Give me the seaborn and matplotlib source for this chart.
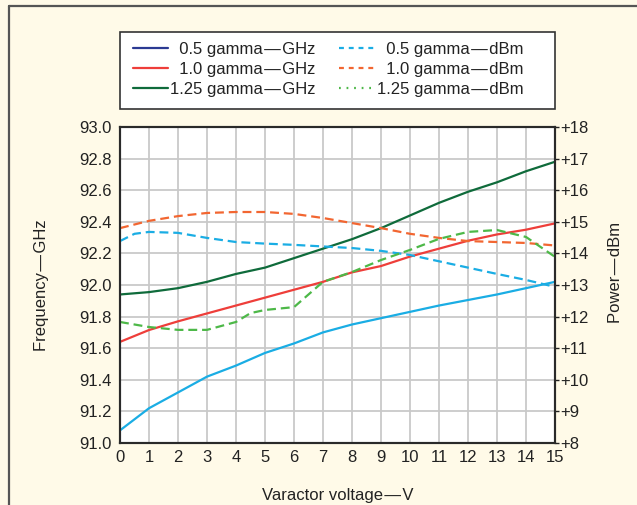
import matplotlib.pyplot as plt
import seaborn as sns
import pandas as pd
from matplotlib.lines import Line2D
from matplotlib.patches import Rectangle
from matplotlib.ticker import FuncFormatter

# Data
volts = list(range(16))
ghz_05 = [91.08, 91.22, 91.32, 91.42, 91.49, 91.57, 91.63, 91.70,
          91.75, 91.79, 91.83, 91.87, 91.905, 91.94, 91.98, 92.02]
ghz_10 = [91.64, 91.715, 91.77, 91.82, 91.87, 91.92, 91.97, 92.02,
          92.08, 92.12, 92.18, 92.23, 92.28, 92.32, 92.35, 92.39]
ghz_125 = [91.94, 91.955, 91.98, 92.02, 92.07, 92.11, 92.17, 92.23,
           92.29, 92.36, 92.44, 92.52, 92.59, 92.65, 92.72, 92.78]

volts_05_dbm = [0, 0.5, 1, 2, 3, 4, 5, 6, 7, 8, 9, 10, 11, 12, 13, 14, 15]
dbm_05 = [14.39, 14.62, 14.68, 14.65, 14.49, 14.36, 14.31, 14.27, 14.22,
          14.17, 14.08, 13.95, 13.75, 13.55, 13.35, 13.16, 12.94]
volts_10_dbm = list(range(16))
dbm_10 = [14.80, 15.03, 15.18, 15.28, 15.31, 15.31, 15.25, 15.12,
          14.96, 14.80, 14.62, 14.49, 14.39, 14.36, 14.33, 14.25]
volts_125_dbm = [0, 1, 2, 3, 4, 4.5, 5, 6, 6.5, 7, 8, 9, 10, 11, 12, 13, 14, 15]
dbm_125 = [11.83, 11.67, 11.58, 11.58, 11.83, 12.11, 12.21, 12.30, 12.7, 13.1,
           13.41, 13.79, 14.11, 14.46, 14.68, 14.74, 14.52, 13.89]

ghz_ticks = [91.0 + 0.2 * i for i in range(11)]
dbm_ticks = list(range(8, 19))

DASH = "\u200a\u2014\u200a"
labels = [f"\u20070.5 gamma{DASH}GHz", f"\u20071.0 gamma{DASH}GHz", f"1.25 gamma{DASH}GHz",
          f"\u20070.5 gamma{DASH}dBm", f"\u20071.0 gamma{DASH}dBm", f"1.25 gamma{DASH}dBm"]

sns.set_style("white")
plt.rcParams['font.family'] = ['Liberation Sans', 'DejaVu Sans']
plt.rcParams['font.size'] = 12

W, H = 637, 505
bg = '#FFFAE8'
c_cyan = '#1AADE4'
c_red = '#EE3E3A'
c_dkgreen = '#0F6B3B'
c_orange = '#F26631'
c_ltgreen = '#4DB848'
c_navy = '#2B3A92'

fig = plt.figure(figsize=(W / 100, H / 100), dpi=100, facecolor=bg)
ax = fig.add_axes([120 / W, 1 - 443 / H, 435 / W, 316 / H])
ax.set_facecolor('white')

df_ghz = pd.DataFrame({'V': volts, 'g05': ghz_05, 'g10': ghz_10, 'g125': ghz_125})
sns.lineplot(data=df_ghz, x='V', y='g05', ax=ax, color=c_cyan, lw=1.6)
sns.lineplot(data=df_ghz, x='V', y='g10', ax=ax, color=c_red, lw=1.6)
sns.lineplot(data=df_ghz, x='V', y='g125', ax=ax, color=c_dkgreen, lw=1.6)

ax2 = ax.twinx()
dash = (0, (4, 2.2))
sns.lineplot(x=volts_05_dbm, y=dbm_05, ax=ax2, color=c_cyan, lw=1.6, linestyle=dash)
sns.lineplot(x=volts_10_dbm, y=dbm_10, ax=ax2, color=c_orange, lw=1.6, linestyle=dash)
sns.lineplot(x=volts_125_dbm, y=dbm_125, ax=ax2, color=c_ltgreen, lw=1.6, linestyle=dash)

ax.set_xlim(0, 15)
ax.set_ylim(91.0, 93.0)
ax2.set_ylim(8, 18)
ax.set_xticks(range(16))
ax.set_yticks(ghz_ticks)
ax.yaxis.set_major_formatter(FuncFormatter(lambda v, p: f"{v:.1f}"))
ax2.set_yticks(dbm_ticks)
ax2.yaxis.set_major_formatter(FuncFormatter(lambda v, p: f"+{v:.0f}"))

ax.grid(True, color='#C9C9C9', lw=1.3)
ax2.grid(False)
ax.tick_params(axis='x', direction='in', length=4, width=1, pad=5, labelsize=12, colors='#222')
ax.tick_params(axis='y', direction='in', length=0, pad=6, labelsize=12, colors='#222')
ax2.tick_params(axis='y', direction='out', length=3, width=1, pad=1, labelsize=12, colors='#222')

for a in (ax, ax2):
    for s in a.spines.values():
        s.set_color('#2A2A2A')
        s.set_linewidth(1.5)

ax.set_xlabel(f"Varactor voltage{DASH}V", fontsize=12, color='#222')
ax.set_ylabel(f"Frequency{DASH}GHz", fontsize=12, color='#222')
ax2.set_ylabel(f"Power{DASH}dBm", fontsize=12, color='#222')
ax.xaxis.set_label_coords(0.5, -0.142)
ax.yaxis.set_label_coords(-0.163, 0.5)
ax2.yaxis.set_label_coords(1.122, 0.54)

# outer frame (left and top edges only)
fig.add_artist(Line2D([9 / W, 9 / W], [0, 1 - 6 / H], transform=fig.transFigure,
                      color='#555555', lw=1.6))
fig.add_artist(Line2D([9 / W, 1], [1 - 6 / H, 1 - 6 / H], transform=fig.transFigure,
                      color='#555555', lw=1.6))

# legend box
fig.add_artist(Rectangle((120 / W, 1 - 109 / H), 435 / W, 77 / H, transform=fig.transFigure,
                         facecolor='white', edgecolor='#333333', lw=1.2, zorder=1))
handles = [
    Line2D([], [], color=c_navy, lw=1.6),
    Line2D([], [], color=c_red, lw=1.6),
    Line2D([], [], color=c_dkgreen, lw=1.6),
    Line2D([], [], color=c_cyan, lw=1.6, linestyle=(0, (2.2, 2.2))),
    Line2D([], [], color=c_orange, lw=1.6, linestyle=(0, (2.2, 2.2))),
    Line2D([], [], color=c_ltgreen, lw=1.6, linestyle=(0, (0.8, 2.6))),
]
leg = fig.legend(handles, labels, ncol=2, frameon=False, loc='upper left',
                 bbox_to_anchor=(133 / W, 1 - 42 / H), borderaxespad=0, borderpad=0,
                 handlelength=2.1, handletextpad=0.15, columnspacing=1.4,
                 labelspacing=0.3, fontsize=12)
leg.set_zorder(2)
for t in leg.get_texts():
    t.set_color('#222')

fig.savefig('out.png', dpi=100, facecolor=bg)
